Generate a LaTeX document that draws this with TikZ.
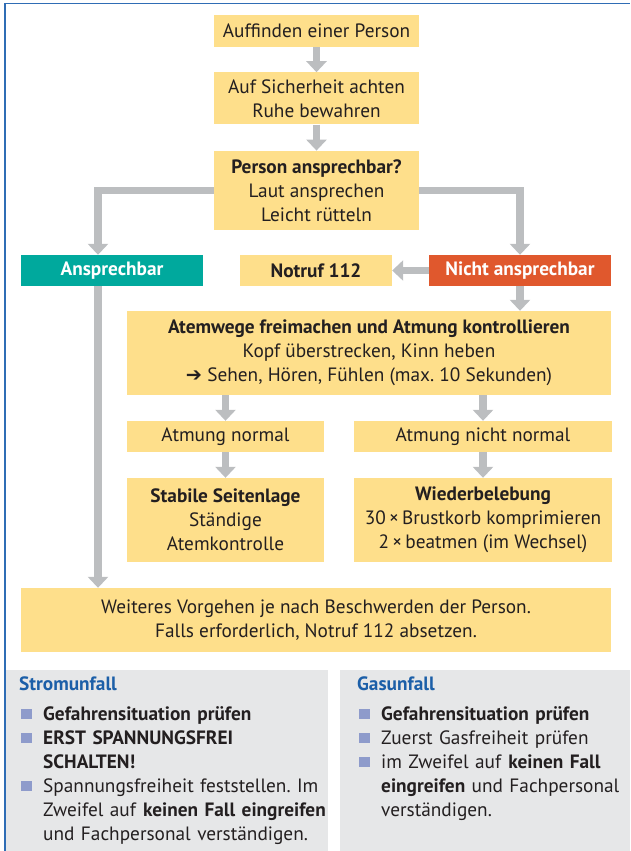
\documentclass[tikz,border=0pt]{standalone}
\usepackage{fontspec}
\setmainfont{PT Sans}
\newfontfamily\symfont{DejaVu Sans}
\usepackage{tikz}
\usetikzlibrary{arrows.meta}
\usetikzlibrary{positioning}
\frenchspacing

\definecolor{cardyellow}{HTML}{FEDF8B}
\definecolor{okgreen}{HTML}{00A99D}
\definecolor{alarmred}{HTML}{E0582D}
\definecolor{flowgray}{HTML}{BCBEC0}
\definecolor{panelgray}{HTML}{E6E7E8}
\definecolor{headblue}{HTML}{1C5FA8}
\definecolor{frameblue}{HTML}{2F6DB5}
\definecolor{bulletblue}{HTML}{8E9BCB}
\definecolor{inkdark}{HTML}{231F20}

% square bullet, and a line that hangs under the text of the bullet
\newcommand{\bitem}[1]{\noindent\makebox[24pt][l]{\hspace{2pt}\textcolor{bulletblue}{\rule[1.5pt]{10.5pt}{10.5pt}}}\mbox{#1}\par}
\newcommand{\bcont}[1]{\noindent\hspace*{24pt}\mbox{#1}\par}

\tikzset{
    card/.style={
           rectangle,
           fill=cardyellow,
           inner sep=0pt,
           align=center,
           text=inkdark,
           font=\fontsize{19.3}{24}\selectfont,
           },
    okcard/.style={card, fill=okgreen, text=white,
           font=\fontsize{19.3}{24}\selectfont\bfseries},
    alarmcard/.style={card, fill=alarmred, text=white,
           font=\fontsize{19.3}{24}\selectfont\bfseries},
    flow/.style={draw=flowgray, line width=7.5pt,
           -{Triangle[width=20pt,length=11pt]}},
    panel text/.style={
           anchor=north west,
           inner sep=0pt,
           text width=330pt,
           align=left,
           text=inkdark,
           font=\fontsize{19.3}{24}\selectfont,
           },
}

\begin{document}
\begin{tikzpicture}[x=1pt,y=-1pt]
 \useasboundingbox (0,0) rectangle (630,851);

 % grey boxes at the bottom and the blue frame
 \fill[panelgray] (6,670) rectangle (328,851);
 \fill[panelgray] (340,670) rectangle (630,851);
 \draw[frameblue, line width=1.6pt] (5,851) -- (5,3.5) -- (630,3.5);

 % First node, the chain goes down from here
 \node[card, minimum width=205pt, minimum height=32pt] (find) at (316.5,31)
 {Auffinden einer Person};

 \node[card,
 minimum width=205pt,
 minimum height=52pt,
 below=25pt of find] (safety)
 {Auf Sicherheit achten\\Ruhe bewahren};

 \node[card,
 minimum width=205pt,
 minimum height=79pt,
 below=26pt of safety] (ask)
 {\textbf{Person ansprechbar?}\\Laut ansprechen\\Leicht rütteln};

 % the three states in one row
 \node[okcard, minimum width=182pt, minimum height=31pt] (resp) at (112,270.5)
 {Ansprechbar};
 \node[card, minimum width=152pt, minimum height=31pt, font=\fontsize{19.3}{24}\selectfont\bfseries] (call) at (316,270.5)
 {Notruf 112};
 \node[alarmcard, minimum width=182pt, minimum height=31pt] (noresp) at (520,270.5)
 {Nicht ansprechbar};

 % airway check
 \node[card, minimum width=484pt, minimum height=84pt] (airway) at (369,353)
 {\textbf{Atemwege freimachen und Atmung kontrollieren}\\
  Kopf überstrecken, Kinn heben\\
  {\symfont ➔} Sehen, Hören, Fühlen (max. 10 Sekunden)};

 \node[card, minimum width=197pt, minimum height=31pt] (normal) at (225.5,436.5)
 {Atmung normal};
 \node[card, minimum width=258pt, minimum height=31pt] (abnormal) at (483,436.5)
 {Atmung nicht normal};

 \node[card, minimum width=197pt, minimum height=84pt] (recovery) at (225.5,520)
 {\textbf{Stabile Seitenlage}\\Ständige\\Atemkontrolle};
 \node[card, minimum width=258pt, minimum height=84pt] (cpr) at (483,520)
 {\textbf{Wiederbelebung}\\30\,×\,Brustkorb komprimieren\\2\,×\,beatmen (im Wechsel)};

 % last node
 \node[card, minimum width=590pt, minimum height=64pt] (further) at (316,620)
 {Weiteres Vorgehen je nach Beschwerden der Person.\\
  Falls erforderlich, Notruf 112 absetzen.};

 % the two text boxes
 \node[panel text] (power) at (19,677)
 {{\color{headblue}\bfseries Stromunfall}\par\vspace{6pt}
  \bitem{\textbf{Gefahrensituation prüfen}}
  \bitem{\textbf{ERST SPANNUNGSFREI}}
  \bcont{\textbf{SCHALTEN!}}
  \bitem{Spannungsfreiheit feststellen. Im}
  \bcont{Zweifel auf \textbf{keinen Fall eingreifen}}
  \bcont{und Fachpersonal verständigen.}};

 \node[panel text] (gas) at (357,677)
 {{\color{headblue}\bfseries Gasunfall}\par\vspace{6pt}
  \bitem{\textbf{Gefahrensituation prüfen}}
  \bitem{Zuerst Gasfreiheit prüfen}
  \bitem{im Zweifel auf \textbf{keinen Fall}}
  \bcont{\textbf{eingreifen} und Fachpersonal}
  \bcont{verständigen.}};

 % line for the left branch
 \coordinate (lx) at (98,0);

 % draw the paths
 \draw[flow] (find) -- (safety);
 \draw[flow] (safety) -- (ask);
 \draw[flow] (ask.west) -| (resp.north -| lx);
 \draw[flow] (ask.east) -| (noresp.north);
 \draw[flow] (noresp.west) -- (call.east);
 \draw[flow] (noresp.south) -- (airway.north -| noresp);
 \draw[flow] (airway.south -| normal) -- (normal.north);
 \draw[flow] (airway.south -| abnormal) -- (abnormal.north);
 \draw[flow] (normal.south) -- (recovery.north);
 \draw[flow] (abnormal.south) -- (cpr.north);
 \draw[flow] (resp.south -| lx) -- (further.north -| lx);
\end{tikzpicture}
\end{document}
